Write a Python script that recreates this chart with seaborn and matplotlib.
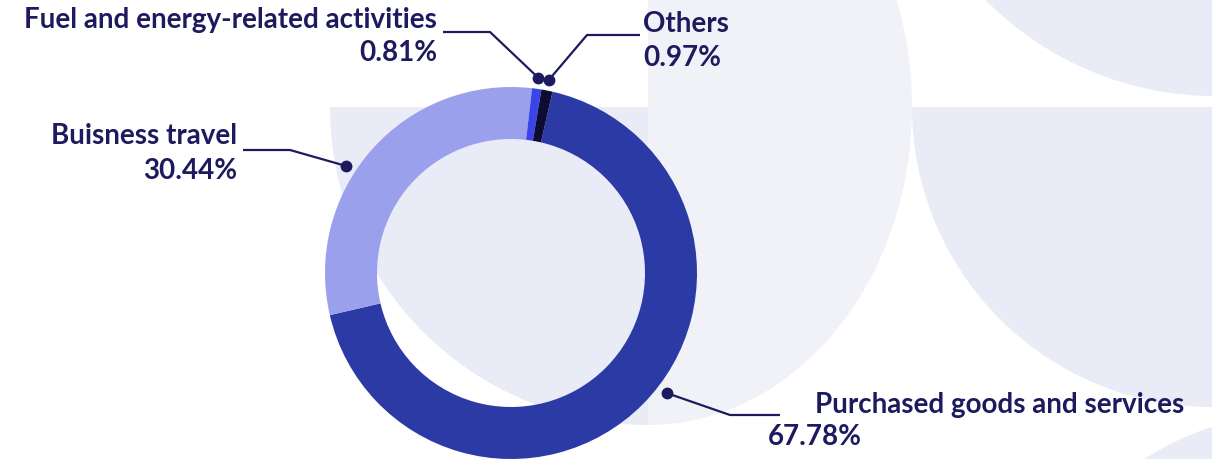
import numpy as np
import matplotlib
matplotlib.use("Agg")
import matplotlib.pyplot as plt
from matplotlib.patches import Wedge, Ellipse, Circle, Rectangle
import seaborn as sns

# ---- data ----
categories = ["Purchased goods and services", "Buisness travel",
              "Fuel and energy-related activities", "Others"]
shares = [67.78, 30.44, 0.81, 0.97]
pct_labels = ["67.78%", "30.44%", "0.81%", "0.97%"]
palette = ["#2C3AA5", "#9AA0EC", "#3A44E8", "#0E0C33"]

sns.set_theme(style="white")
plt.rcParams["font.family"] = ["Lato", "DejaVu Sans"]

W, H = 1212, 460
fig = plt.figure(figsize=(W / 100, H / 100), dpi=100)
ax = fig.add_axes([0, 0, 1, 1])

def Y(y):  # image row -> axis y (upwards)
    return H - y

BG1 = "#E9EBF6"
BG2 = "#F1F2F8"

# ---- decorative background ----
ell = Ellipse((648, Y(108)), 528, 636, color=BG2, lw=0, zorder=0)
ax.add_patch(ell)
clip = Rectangle((648, 0), 600, H, transform=ax.transData)
ell.set_clip_path(clip)
ax.add_patch(Wedge((648, Y(108)), 318, 180, 270, color=BG1, lw=0, zorder=1))
ax.add_patch(Wedge((1212, Y(108)), 300, 180, 270, color=BG1, lw=0, zorder=1))
ax.add_patch(Circle((1215, Y(-225)), 322, color=BG1, lw=0, zorder=1))
ax.add_patch(Circle((1300, Y(700)), 286, color=BG1, lw=0, zorder=1))

# ---- donut ----
cx, cy, R = 511, Y(274), 186
wedges, _ = ax.pie(shares, colors=palette, startangle=77.1, counterclock=False,
                   radius=R, center=(cx, cy),
                   wedgeprops=dict(width=52, linewidth=0))
for w in wedges:
    w.set_zorder(3)

ax.set_xlim(0, W)
ax.set_ylim(0, H)
ax.axis("off")

ink = "#1E1A5E"
# layout per label: fraction along wedge, elbow, line end, text anchors
layout = [
    dict(t=0.53, elbow=(730, 416), end=(780, 416),
         name=(815, 405, "left"), pct=(768, 437, "left")),
    dict(t=0.58, elbow=(290, 151), end=(243, 151),
         name=(237, 136, "right"), pct=(237, 171, "right")),
    dict(t=0.5, elbow=(490, 33), end=(443, 33),
         name=(437, 20, "right"), pct=(437, 53, "right")),
    dict(t=0.5, elbow=(587, 36), end=(640, 36),
         name=(643, 24, "left"), pct=(643, 58, "left")),
]

for w, cat, pct, lay in zip(wedges, categories, pct_labels, layout):
    ang = np.deg2rad(w.theta1 + lay["t"] * (w.theta2 - w.theta1))
    dx, dy = cx + 1.06 * R * np.cos(ang), cy + 1.06 * R * np.sin(ang)
    ex, ey = lay["elbow"]
    fx, fy = lay["end"]
    ax.plot([dx, ex, fx], [dy, Y(ey), Y(fy)], color=ink, lw=1.6, zorder=4,
            solid_capstyle="butt")
    ax.plot([dx], [dy], "o", color=ink, ms=7.5, zorder=5)
    nx, ny, nha = lay["name"]
    px, py, pha = lay["pct"]
    ax.text(nx, Y(ny), cat, ha=nha, va="center", fontsize=20,
            fontweight="bold", color=ink, zorder=6)
    ax.text(px, Y(py), pct, ha=pha, va="center", fontsize=20,
            fontweight="bold", color=ink, zorder=6)

fig.savefig("out.png", dpi=100, facecolor="white")
